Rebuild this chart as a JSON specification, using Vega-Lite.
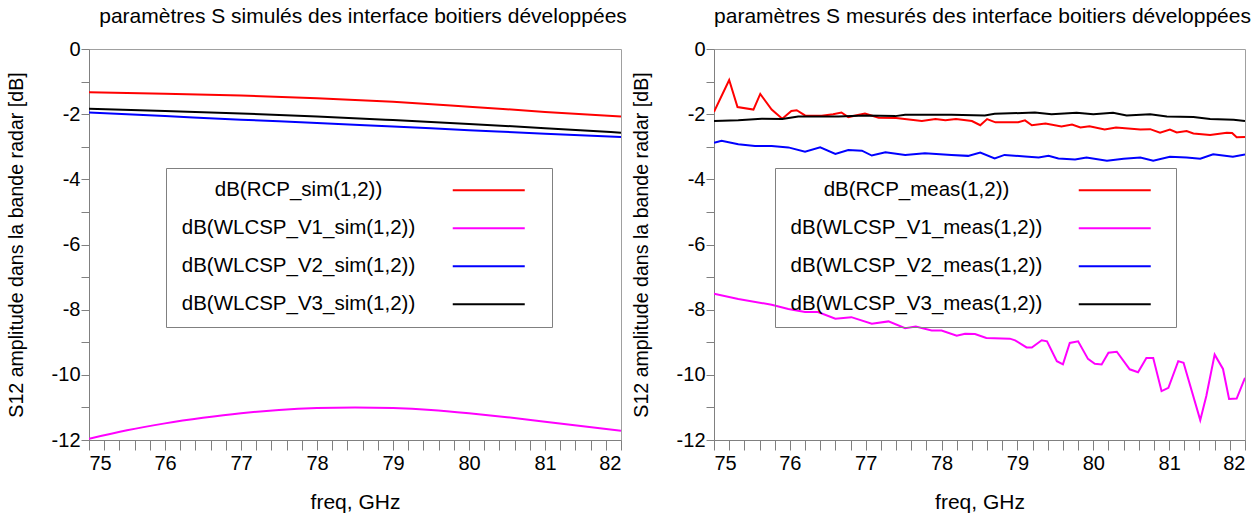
{
  "$schema": "https://vega.github.io/schema/vega-lite/v6.json",
  "background": "white",
  "padding": {"left": 5, "top": 5, "right": 3, "bottom": 4},
  "bounds": "flush",
  "spacing": 93,
  "config": {
    "font": "Liberation Sans",
    "view": {"stroke": "#a0a0a0", "strokeWidth": 1},
    "title": {"font": "Liberation Sans", "fontSize": 21, "fontWeight": "normal", "anchor": "middle", "offset": 12, "color": "#000"},
    "axis": {"labelFont": "Liberation Sans", "labelFontSize": 20, "labelColor": "#000", "titleFont": "Liberation Sans", "titleFontSize": 19.6, "titleFontWeight": "normal", "titleColor": "#000", "domainColor": "#808080", "tickColor": "#808080", "grid": false},
    "axisX": {"titleFontSize": 21},
    "legend": {"labelFont": "Liberation Sans", "labelFontSize": 20.5, "labelColor": "#000"}
  },
  "datasets": {
    "sim": [
      {"freq": 75, "dB": -1.33, "series": "dB(RCP_sim(1,2))"},
      {"freq": 76, "dB": -1.37, "series": "dB(RCP_sim(1,2))"},
      {"freq": 77, "dB": -1.43, "series": "dB(RCP_sim(1,2))"},
      {"freq": 78, "dB": -1.51, "series": "dB(RCP_sim(1,2))"},
      {"freq": 79, "dB": -1.62, "series": "dB(RCP_sim(1,2))"},
      {"freq": 80, "dB": -1.77, "series": "dB(RCP_sim(1,2))"},
      {"freq": 81, "dB": -1.93, "series": "dB(RCP_sim(1,2))"},
      {"freq": 82, "dB": -2.07, "series": "dB(RCP_sim(1,2))"},
      {"freq": 75, "dB": -11.96, "series": "dB(WLCSP_V1_sim(1,2))"},
      {"freq": 75.5, "dB": -11.7, "series": "dB(WLCSP_V1_sim(1,2))"},
      {"freq": 76, "dB": -11.49, "series": "dB(WLCSP_V1_sim(1,2))"},
      {"freq": 76.5, "dB": -11.32, "series": "dB(WLCSP_V1_sim(1,2))"},
      {"freq": 77, "dB": -11.18, "series": "dB(WLCSP_V1_sim(1,2))"},
      {"freq": 77.5, "dB": -11.08, "series": "dB(WLCSP_V1_sim(1,2))"},
      {"freq": 78, "dB": -11.02, "series": "dB(WLCSP_V1_sim(1,2))"},
      {"freq": 78.5, "dB": -11.0, "series": "dB(WLCSP_V1_sim(1,2))"},
      {"freq": 79, "dB": -11.02, "series": "dB(WLCSP_V1_sim(1,2))"},
      {"freq": 79.5, "dB": -11.08, "series": "dB(WLCSP_V1_sim(1,2))"},
      {"freq": 80, "dB": -11.18, "series": "dB(WLCSP_V1_sim(1,2))"},
      {"freq": 80.5, "dB": -11.3, "series": "dB(WLCSP_V1_sim(1,2))"},
      {"freq": 81, "dB": -11.44, "series": "dB(WLCSP_V1_sim(1,2))"},
      {"freq": 81.5, "dB": -11.58, "series": "dB(WLCSP_V1_sim(1,2))"},
      {"freq": 82, "dB": -11.72, "series": "dB(WLCSP_V1_sim(1,2))"},
      {"freq": 75, "dB": -1.95, "series": "dB(WLCSP_V2_sim(1,2))"},
      {"freq": 76, "dB": -2.06, "series": "dB(WLCSP_V2_sim(1,2))"},
      {"freq": 77, "dB": -2.17, "series": "dB(WLCSP_V2_sim(1,2))"},
      {"freq": 78, "dB": -2.27, "series": "dB(WLCSP_V2_sim(1,2))"},
      {"freq": 79, "dB": -2.38, "series": "dB(WLCSP_V2_sim(1,2))"},
      {"freq": 80, "dB": -2.49, "series": "dB(WLCSP_V2_sim(1,2))"},
      {"freq": 81, "dB": -2.6, "series": "dB(WLCSP_V2_sim(1,2))"},
      {"freq": 82, "dB": -2.7, "series": "dB(WLCSP_V2_sim(1,2))"},
      {"freq": 75, "dB": -1.83, "series": "dB(WLCSP_V3_sim(1,2))"},
      {"freq": 76, "dB": -1.9, "series": "dB(WLCSP_V3_sim(1,2))"},
      {"freq": 77, "dB": -1.98, "series": "dB(WLCSP_V3_sim(1,2))"},
      {"freq": 78, "dB": -2.07, "series": "dB(WLCSP_V3_sim(1,2))"},
      {"freq": 79, "dB": -2.18, "series": "dB(WLCSP_V3_sim(1,2))"},
      {"freq": 80, "dB": -2.3, "series": "dB(WLCSP_V3_sim(1,2))"},
      {"freq": 81, "dB": -2.43, "series": "dB(WLCSP_V3_sim(1,2))"},
      {"freq": 82, "dB": -2.57, "series": "dB(WLCSP_V3_sim(1,2))"}
    ],
    "meas": [
      {"freq": 75.0, "dB": -1.93, "series": "dB(RCP_meas(1,2))"},
      {"freq": 75.2, "dB": -0.95, "series": "dB(RCP_meas(1,2))"},
      {"freq": 75.31, "dB": -1.78, "series": "dB(RCP_meas(1,2))"},
      {"freq": 75.52, "dB": -1.86, "series": "dB(RCP_meas(1,2))"},
      {"freq": 75.61, "dB": -1.38, "series": "dB(RCP_meas(1,2))"},
      {"freq": 75.76, "dB": -1.86, "series": "dB(RCP_meas(1,2))"},
      {"freq": 75.9, "dB": -2.14, "series": "dB(RCP_meas(1,2))"},
      {"freq": 76.02, "dB": -1.9, "series": "dB(RCP_meas(1,2))"},
      {"freq": 76.09, "dB": -1.88, "series": "dB(RCP_meas(1,2))"},
      {"freq": 76.2, "dB": -2.04, "series": "dB(RCP_meas(1,2))"},
      {"freq": 76.42, "dB": -2.05, "series": "dB(RCP_meas(1,2))"},
      {"freq": 76.57, "dB": -2.0, "series": "dB(RCP_meas(1,2))"},
      {"freq": 76.68, "dB": -1.95, "series": "dB(RCP_meas(1,2))"},
      {"freq": 76.77, "dB": -2.09, "series": "dB(RCP_meas(1,2))"},
      {"freq": 76.99, "dB": -1.98, "series": "dB(RCP_meas(1,2))"},
      {"freq": 77.17, "dB": -2.11, "series": "dB(RCP_meas(1,2))"},
      {"freq": 77.4, "dB": -2.12, "series": "dB(RCP_meas(1,2))"},
      {"freq": 77.74, "dB": -2.21, "series": "dB(RCP_meas(1,2))"},
      {"freq": 77.92, "dB": -2.15, "series": "dB(RCP_meas(1,2))"},
      {"freq": 78.05, "dB": -2.19, "series": "dB(RCP_meas(1,2))"},
      {"freq": 78.19, "dB": -2.15, "series": "dB(RCP_meas(1,2))"},
      {"freq": 78.4, "dB": -2.21, "series": "dB(RCP_meas(1,2))"},
      {"freq": 78.51, "dB": -2.34, "series": "dB(RCP_meas(1,2))"},
      {"freq": 78.6, "dB": -2.15, "series": "dB(RCP_meas(1,2))"},
      {"freq": 78.71, "dB": -2.25, "series": "dB(RCP_meas(1,2))"},
      {"freq": 79.01, "dB": -2.25, "series": "dB(RCP_meas(1,2))"},
      {"freq": 79.1, "dB": -2.19, "series": "dB(RCP_meas(1,2))"},
      {"freq": 79.19, "dB": -2.34, "series": "dB(RCP_meas(1,2))"},
      {"freq": 79.37, "dB": -2.29, "series": "dB(RCP_meas(1,2))"},
      {"freq": 79.58, "dB": -2.38, "series": "dB(RCP_meas(1,2))"},
      {"freq": 79.72, "dB": -2.32, "series": "dB(RCP_meas(1,2))"},
      {"freq": 79.83, "dB": -2.41, "series": "dB(RCP_meas(1,2))"},
      {"freq": 79.95, "dB": -2.37, "series": "dB(RCP_meas(1,2))"},
      {"freq": 80.15, "dB": -2.47, "series": "dB(RCP_meas(1,2))"},
      {"freq": 80.3, "dB": -2.41, "series": "dB(RCP_meas(1,2))"},
      {"freq": 80.62, "dB": -2.47, "series": "dB(RCP_meas(1,2))"},
      {"freq": 80.75, "dB": -2.46, "series": "dB(RCP_meas(1,2))"},
      {"freq": 80.88, "dB": -2.57, "series": "dB(RCP_meas(1,2))"},
      {"freq": 81.01, "dB": -2.47, "series": "dB(RCP_meas(1,2))"},
      {"freq": 81.1, "dB": -2.56, "series": "dB(RCP_meas(1,2))"},
      {"freq": 81.23, "dB": -2.52, "series": "dB(RCP_meas(1,2))"},
      {"freq": 81.32, "dB": -2.59, "series": "dB(RCP_meas(1,2))"},
      {"freq": 81.54, "dB": -2.64, "series": "dB(RCP_meas(1,2))"},
      {"freq": 81.76, "dB": -2.57, "series": "dB(RCP_meas(1,2))"},
      {"freq": 81.83, "dB": -2.58, "series": "dB(RCP_meas(1,2))"},
      {"freq": 81.89, "dB": -2.71, "series": "dB(RCP_meas(1,2))"},
      {"freq": 82.0, "dB": -2.7, "series": "dB(RCP_meas(1,2))"},
      {"freq": 75.0, "dB": -7.51, "series": "dB(WLCSP_V1_meas(1,2))"},
      {"freq": 75.32, "dB": -7.67, "series": "dB(WLCSP_V1_meas(1,2))"},
      {"freq": 75.76, "dB": -7.85, "series": "dB(WLCSP_V1_meas(1,2))"},
      {"freq": 75.98, "dB": -7.98, "series": "dB(WLCSP_V1_meas(1,2))"},
      {"freq": 76.2, "dB": -8.07, "series": "dB(WLCSP_V1_meas(1,2))"},
      {"freq": 76.37, "dB": -8.07, "series": "dB(WLCSP_V1_meas(1,2))"},
      {"freq": 76.6, "dB": -8.28, "series": "dB(WLCSP_V1_meas(1,2))"},
      {"freq": 76.81, "dB": -8.23, "series": "dB(WLCSP_V1_meas(1,2))"},
      {"freq": 77.08, "dB": -8.43, "series": "dB(WLCSP_V1_meas(1,2))"},
      {"freq": 77.3, "dB": -8.36, "series": "dB(WLCSP_V1_meas(1,2))"},
      {"freq": 77.52, "dB": -8.57, "series": "dB(WLCSP_V1_meas(1,2))"},
      {"freq": 77.66, "dB": -8.52, "series": "dB(WLCSP_V1_meas(1,2))"},
      {"freq": 77.87, "dB": -8.64, "series": "dB(WLCSP_V1_meas(1,2))"},
      {"freq": 78.0, "dB": -8.64, "series": "dB(WLCSP_V1_meas(1,2))"},
      {"freq": 78.2, "dB": -8.8, "series": "dB(WLCSP_V1_meas(1,2))"},
      {"freq": 78.31, "dB": -8.74, "series": "dB(WLCSP_V1_meas(1,2))"},
      {"freq": 78.44, "dB": -8.75, "series": "dB(WLCSP_V1_meas(1,2))"},
      {"freq": 78.59, "dB": -8.87, "series": "dB(WLCSP_V1_meas(1,2))"},
      {"freq": 78.9, "dB": -8.89, "series": "dB(WLCSP_V1_meas(1,2))"},
      {"freq": 78.97, "dB": -8.94, "series": "dB(WLCSP_V1_meas(1,2))"},
      {"freq": 79.12, "dB": -9.16, "series": "dB(WLCSP_V1_meas(1,2))"},
      {"freq": 79.19, "dB": -9.16, "series": "dB(WLCSP_V1_meas(1,2))"},
      {"freq": 79.32, "dB": -8.94, "series": "dB(WLCSP_V1_meas(1,2))"},
      {"freq": 79.39, "dB": -8.97, "series": "dB(WLCSP_V1_meas(1,2))"},
      {"freq": 79.52, "dB": -9.58, "series": "dB(WLCSP_V1_meas(1,2))"},
      {"freq": 79.6, "dB": -9.68, "series": "dB(WLCSP_V1_meas(1,2))"},
      {"freq": 79.69, "dB": -9.02, "series": "dB(WLCSP_V1_meas(1,2))"},
      {"freq": 79.8, "dB": -8.97, "series": "dB(WLCSP_V1_meas(1,2))"},
      {"freq": 79.93, "dB": -9.51, "series": "dB(WLCSP_V1_meas(1,2))"},
      {"freq": 80.02, "dB": -9.66, "series": "dB(WLCSP_V1_meas(1,2))"},
      {"freq": 80.11, "dB": -9.68, "series": "dB(WLCSP_V1_meas(1,2))"},
      {"freq": 80.2, "dB": -9.32, "series": "dB(WLCSP_V1_meas(1,2))"},
      {"freq": 80.31, "dB": -9.29, "series": "dB(WLCSP_V1_meas(1,2))"},
      {"freq": 80.48, "dB": -9.83, "series": "dB(WLCSP_V1_meas(1,2))"},
      {"freq": 80.59, "dB": -9.92, "series": "dB(WLCSP_V1_meas(1,2))"},
      {"freq": 80.7, "dB": -9.48, "series": "dB(WLCSP_V1_meas(1,2))"},
      {"freq": 80.79, "dB": -9.48, "series": "dB(WLCSP_V1_meas(1,2))"},
      {"freq": 80.9, "dB": -10.5, "series": "dB(WLCSP_V1_meas(1,2))"},
      {"freq": 80.99, "dB": -10.4, "series": "dB(WLCSP_V1_meas(1,2))"},
      {"freq": 81.12, "dB": -9.58, "series": "dB(WLCSP_V1_meas(1,2))"},
      {"freq": 81.19, "dB": -9.63, "series": "dB(WLCSP_V1_meas(1,2))"},
      {"freq": 81.41, "dB": -11.39, "series": "dB(WLCSP_V1_meas(1,2))"},
      {"freq": 81.49, "dB": -10.65, "series": "dB(WLCSP_V1_meas(1,2))"},
      {"freq": 81.6, "dB": -9.38, "series": "dB(WLCSP_V1_meas(1,2))"},
      {"freq": 81.71, "dB": -9.82, "series": "dB(WLCSP_V1_meas(1,2))"},
      {"freq": 81.79, "dB": -10.74, "series": "dB(WLCSP_V1_meas(1,2))"},
      {"freq": 81.89, "dB": -10.73, "series": "dB(WLCSP_V1_meas(1,2))"},
      {"freq": 82.0, "dB": -10.09, "series": "dB(WLCSP_V1_meas(1,2))"},
      {"freq": 75.0, "dB": -2.88, "series": "dB(WLCSP_V2_meas(1,2))"},
      {"freq": 75.1, "dB": -2.82, "series": "dB(WLCSP_V2_meas(1,2))"},
      {"freq": 75.32, "dB": -2.92, "series": "dB(WLCSP_V2_meas(1,2))"},
      {"freq": 75.54, "dB": -2.98, "series": "dB(WLCSP_V2_meas(1,2))"},
      {"freq": 75.76, "dB": -2.98, "series": "dB(WLCSP_V2_meas(1,2))"},
      {"freq": 75.98, "dB": -3.02, "series": "dB(WLCSP_V2_meas(1,2))"},
      {"freq": 76.2, "dB": -3.15, "series": "dB(WLCSP_V2_meas(1,2))"},
      {"freq": 76.4, "dB": -3.02, "series": "dB(WLCSP_V2_meas(1,2))"},
      {"freq": 76.6, "dB": -3.22, "series": "dB(WLCSP_V2_meas(1,2))"},
      {"freq": 76.77, "dB": -3.1, "series": "dB(WLCSP_V2_meas(1,2))"},
      {"freq": 76.95, "dB": -3.12, "series": "dB(WLCSP_V2_meas(1,2))"},
      {"freq": 77.08, "dB": -3.27, "series": "dB(WLCSP_V2_meas(1,2))"},
      {"freq": 77.26, "dB": -3.17, "series": "dB(WLCSP_V2_meas(1,2))"},
      {"freq": 77.52, "dB": -3.25, "series": "dB(WLCSP_V2_meas(1,2))"},
      {"freq": 77.78, "dB": -3.2, "series": "dB(WLCSP_V2_meas(1,2))"},
      {"freq": 78.13, "dB": -3.25, "series": "dB(WLCSP_V2_meas(1,2))"},
      {"freq": 78.35, "dB": -3.28, "series": "dB(WLCSP_V2_meas(1,2))"},
      {"freq": 78.51, "dB": -3.18, "series": "dB(WLCSP_V2_meas(1,2))"},
      {"freq": 78.7, "dB": -3.36, "series": "dB(WLCSP_V2_meas(1,2))"},
      {"freq": 78.83, "dB": -3.25, "series": "dB(WLCSP_V2_meas(1,2))"},
      {"freq": 79.1, "dB": -3.3, "series": "dB(WLCSP_V2_meas(1,2))"},
      {"freq": 79.28, "dB": -3.33, "series": "dB(WLCSP_V2_meas(1,2))"},
      {"freq": 79.41, "dB": -3.28, "series": "dB(WLCSP_V2_meas(1,2))"},
      {"freq": 79.54, "dB": -3.36, "series": "dB(WLCSP_V2_meas(1,2))"},
      {"freq": 79.76, "dB": -3.39, "series": "dB(WLCSP_V2_meas(1,2))"},
      {"freq": 79.91, "dB": -3.33, "series": "dB(WLCSP_V2_meas(1,2))"},
      {"freq": 80.18, "dB": -3.43, "series": "dB(WLCSP_V2_meas(1,2))"},
      {"freq": 80.4, "dB": -3.37, "series": "dB(WLCSP_V2_meas(1,2))"},
      {"freq": 80.62, "dB": -3.33, "series": "dB(WLCSP_V2_meas(1,2))"},
      {"freq": 80.79, "dB": -3.43, "series": "dB(WLCSP_V2_meas(1,2))"},
      {"freq": 81.01, "dB": -3.31, "series": "dB(WLCSP_V2_meas(1,2))"},
      {"freq": 81.23, "dB": -3.33, "series": "dB(WLCSP_V2_meas(1,2))"},
      {"freq": 81.41, "dB": -3.37, "series": "dB(WLCSP_V2_meas(1,2))"},
      {"freq": 81.58, "dB": -3.23, "series": "dB(WLCSP_V2_meas(1,2))"},
      {"freq": 81.84, "dB": -3.31, "series": "dB(WLCSP_V2_meas(1,2))"},
      {"freq": 82.0, "dB": -3.24, "series": "dB(WLCSP_V2_meas(1,2))"},
      {"freq": 75.0, "dB": -2.21, "series": "dB(WLCSP_V3_meas(1,2))"},
      {"freq": 75.32, "dB": -2.19, "series": "dB(WLCSP_V3_meas(1,2))"},
      {"freq": 75.63, "dB": -2.14, "series": "dB(WLCSP_V3_meas(1,2))"},
      {"freq": 75.9, "dB": -2.15, "series": "dB(WLCSP_V3_meas(1,2))"},
      {"freq": 76.11, "dB": -2.07, "series": "dB(WLCSP_V3_meas(1,2))"},
      {"freq": 76.64, "dB": -2.07, "series": "dB(WLCSP_V3_meas(1,2))"},
      {"freq": 76.99, "dB": -2.04, "series": "dB(WLCSP_V3_meas(1,2))"},
      {"freq": 77.39, "dB": -2.06, "series": "dB(WLCSP_V3_meas(1,2))"},
      {"freq": 77.52, "dB": -2.02, "series": "dB(WLCSP_V3_meas(1,2))"},
      {"freq": 78.13, "dB": -2.02, "series": "dB(WLCSP_V3_meas(1,2))"},
      {"freq": 78.57, "dB": -2.04, "series": "dB(WLCSP_V3_meas(1,2))"},
      {"freq": 78.7, "dB": -1.99, "series": "dB(WLCSP_V3_meas(1,2))"},
      {"freq": 79.23, "dB": -1.95, "series": "dB(WLCSP_V3_meas(1,2))"},
      {"freq": 79.45, "dB": -2.0, "series": "dB(WLCSP_V3_meas(1,2))"},
      {"freq": 79.78, "dB": -1.96, "series": "dB(WLCSP_V3_meas(1,2))"},
      {"freq": 80.0, "dB": -2.0, "series": "dB(WLCSP_V3_meas(1,2))"},
      {"freq": 80.26, "dB": -1.96, "series": "dB(WLCSP_V3_meas(1,2))"},
      {"freq": 80.44, "dB": -2.04, "series": "dB(WLCSP_V3_meas(1,2))"},
      {"freq": 80.75, "dB": -2.0, "series": "dB(WLCSP_V3_meas(1,2))"},
      {"freq": 80.97, "dB": -2.07, "series": "dB(WLCSP_V3_meas(1,2))"},
      {"freq": 81.32, "dB": -2.09, "series": "dB(WLCSP_V3_meas(1,2))"},
      {"freq": 81.54, "dB": -2.15, "series": "dB(WLCSP_V3_meas(1,2))"},
      {"freq": 81.85, "dB": -2.17, "series": "dB(WLCSP_V3_meas(1,2))"},
      {"freq": 82.0, "dB": -2.21, "series": "dB(WLCSP_V3_meas(1,2))"}
    ]
  },
  "hconcat": [
    {
      "width": 532,
      "height": 391,
      "title": {"text": "paramètres S simulés des interface boitiers développées", "dx": 8},
      "data": {"name": "sim"},
      "mark": {"type": "line", "strokeWidth": 2, "interpolate": "monotone", "clip": true},
      "encoding": {
        "x": {"field": "freq", "type": "quantitative", "scale": {"domain": [75, 82], "nice": false, "zero": false},
          "axis": {"title": "freq, GHz", "titlePadding": 18, "tickSize": 10, "labelPadding": 3,
            "values": [75,75.2,75.4,75.6,75.8,76,76.2,76.4,76.6,76.8,77,77.2,77.4,77.6,77.8,78,78.2,78.4,78.6,78.8,79,79.2,79.4,79.6,79.8,80,80.2,80.4,80.6,80.8,81,81.2,81.4,81.6,81.8,82],
            "labelExpr": "datum.value % 1 === 0 ? '' + datum.value : ''",
            "labelOverlap": false,
            "encode": {"ticks": {"update": {"y2": {"signal": "datum.value % 1 === 0 ? 10 : 6"}}}}}},
        "y": {"field": "dB", "type": "quantitative", "scale": {"domain": [-12, 0], "nice": false, "zero": false},
          "axis": {"title": "S12 amplitude dans la bande radar [dB]", "titlePadding": 25, "tickSize": 8, "labelPadding": 1,
            "values": [-12,-11,-10,-9,-8,-7,-6,-5,-4,-3,-2,-1,0],
            "labelExpr": "datum.value % 2 === 0 ? '' + datum.value : ''",
            "labelOverlap": false,
            "encode": {"ticks": {"update": {"x2": {"signal": "datum.value % 2 === 0 ? -8 : -5"}}}}}},
        "color": {"field": "series", "type": "nominal",
          "scale": {"domain": ["dB(RCP_sim(1,2))", "dB(WLCSP_V1_sim(1,2))", "dB(WLCSP_V2_sim(1,2))", "dB(WLCSP_V3_sim(1,2))"], "range": ["#ff0000", "#ff00ff", "#0000ff", "#000000"]},
          "legend": {"orient": "none", "legendX": 77, "legendY": 119, "title": null, "symbolType": "M-67.9,0M-8,0H8M10.4,0", "symbolSize": 81, "symbolStrokeWidth": 2, "symbolFillColor": "transparent",
            "labelAlign": "center", "labelOffset": -200.5, "symbolOffset": 300.5, "padding": 12, "rowPadding": 17, "strokeColor": "#808080", "labelLimit": 400}}
      }
    },
    {
      "width": 531,
      "height": 391,
      "title": {"text": "paramètres S mesurés des interface boitiers développées", "dx": 3},
      "data": {"name": "meas"},
      "mark": {"type": "line", "strokeWidth": 2, "clip": true},
      "encoding": {
        "x": {"field": "freq", "type": "quantitative", "scale": {"domain": [75, 82], "nice": false, "zero": false},
          "axis": {"title": "freq, GHz", "titlePadding": 18, "tickSize": 10, "labelPadding": 3,
            "values": [75,75.2,75.4,75.6,75.8,76,76.2,76.4,76.6,76.8,77,77.2,77.4,77.6,77.8,78,78.2,78.4,78.6,78.8,79,79.2,79.4,79.6,79.8,80,80.2,80.4,80.6,80.8,81,81.2,81.4,81.6,81.8,82],
            "labelExpr": "datum.value % 1 === 0 ? '' + datum.value : ''",
            "labelOverlap": false,
            "encode": {"ticks": {"update": {"y2": {"signal": "datum.value % 1 === 0 ? 10 : 6"}}}}}},
        "y": {"field": "dB", "type": "quantitative", "scale": {"domain": [-12, 0], "nice": false, "zero": false},
          "axis": {"title": "S12 amplitude dans la bande radar [dB]", "titlePadding": 25, "tickSize": 8, "labelPadding": 1,
            "values": [-12,-11,-10,-9,-8,-7,-6,-5,-4,-3,-2,-1,0],
            "labelExpr": "datum.value % 2 === 0 ? '' + datum.value : ''",
            "labelOverlap": false,
            "encode": {"ticks": {"update": {"x2": {"signal": "datum.value % 2 === 0 ? -8 : -5"}}}}}},
        "color": {"field": "series", "type": "nominal",
          "scale": {"domain": ["dB(RCP_meas(1,2))", "dB(WLCSP_V1_meas(1,2))", "dB(WLCSP_V2_meas(1,2))", "dB(WLCSP_V3_meas(1,2))"], "range": ["#ff0000", "#ff00ff", "#0000ff", "#000000"]},
          "legend": {"orient": "none", "legendX": 61, "legendY": 119, "title": null, "symbolType": "M-71.9,0M-8,0H8M10,0", "symbolSize": 81, "symbolStrokeWidth": 2, "symbolFillColor": "transparent",
            "labelAlign": "center", "labelOffset": -208.5, "symbolOffset": 317.5, "padding": 12, "rowPadding": 17, "strokeColor": "#808080", "labelLimit": 400}}
      }
    }
  ],
  "resolve": {"scale": {"color": "independent"}}
}
